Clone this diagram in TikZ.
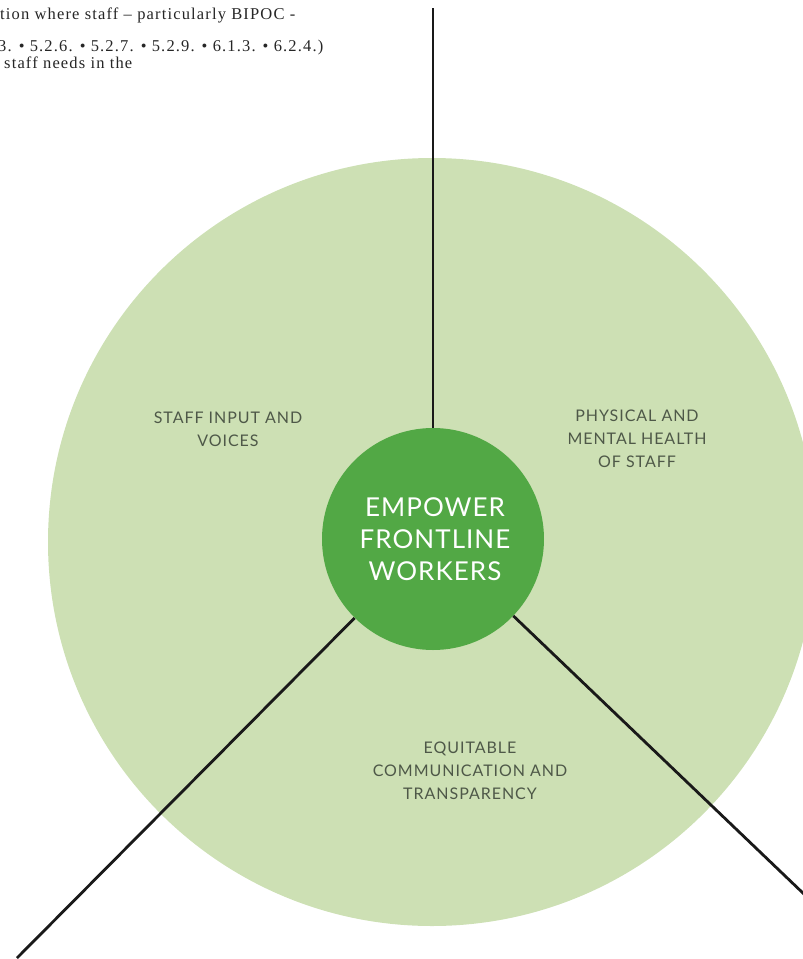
\documentclass[tikz,border=0pt]{standalone}
\usepackage{fontspec}
\setmainfont{Liberation Serif}[LetterSpace=7]
\newfontfamily\labfont{Lato}[LetterSpace=6]
\newfontfamily\hubfont{Lato}[LetterSpace=4]
\usetikzlibrary{calc}
\definecolor{bigg}{RGB}{205,224,180}
\definecolor{smallg}{RGB}{82,168,69}
\definecolor{labc}{RGB}{78,88,72}
\tikzset{
  bigcirc/.style={circle, fill=bigg, minimum size=768pt, inner sep=0pt},
  hubcirc/.style={circle, fill=smallg, minimum size=222pt, inner sep=0pt},
  spoke/.style={line width=2.8pt, black!90},
  seclabel/.style={font=\labfont\fontsize{16}{23}\selectfont, text=labc, align=center, inner sep=0pt},
  hublabel/.style={font=\hubfont\fontsize{26}{32}\selectfont, text=white, align=center, inner sep=0pt},
  toptext/.style={font=\fontsize{16.5}{16}\selectfont, anchor=base west, inner sep=0pt, text=black!85}
}
\begin{document}
\begin{tikzpicture}[x=1pt,y=-1pt]
\useasboundingbox (0,0) rectangle (803,959);
\clip (0,0) rectangle (803,959);
\node[bigcirc] (big) at (432,542) {};
\node[hubcirc] (hub) at (433,539) {};
\coordinate (topend) at (433,8);
\coordinate (blend) at (17,958);
\coordinate (brend) at (805,895);
\draw[spoke] (hub) -- (topend);
\draw[spoke] (hub) -- (blend);
\draw[spoke] (hub) -- (brend);
\node[hublabel] (hubtext) at (435,539) {EMPOWER\\FRONTLINE\\WORKERS};
\node[seclabel] (l1) at (228,429) {STAFF INPUT AND\\VOICES};
\node[seclabel] (l2) at (637,439) {PHYSICAL AND\\MENTAL HEALTH\\OF STAFF};
\node[seclabel] (l3) at (470,771) {EQUITABLE\\COMMUNICATION AND\\TRANSPARENCY};
\node[toptext] (t1) at (0,19) {tion where staff -- particularly BIPOC -};
\node[toptext] (t2) at (-2,51) {3. • 5.2.6. • 5.2.7. • 5.2.9. • 6.1.3. • 6.2.4.)};
\node[toptext] (t3) at (4,68) {staff needs in the};
\end{tikzpicture}
\end{document}
